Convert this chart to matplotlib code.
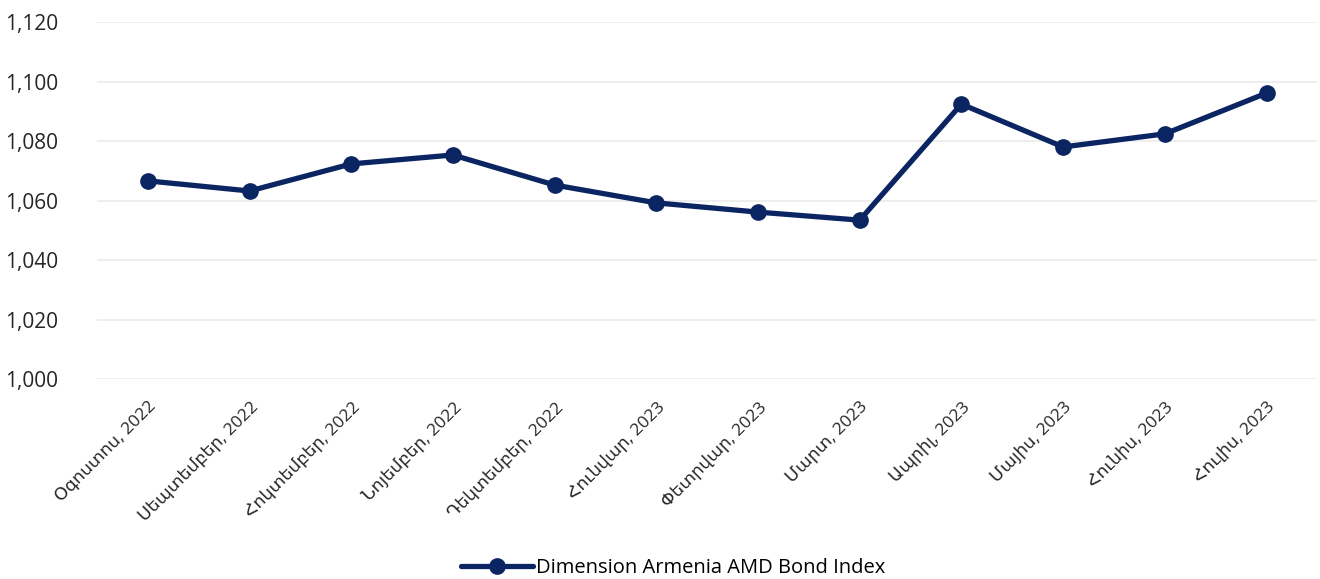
import matplotlib
matplotlib.use("Agg")
import matplotlib.pyplot as plt
from matplotlib.ticker import FuncFormatter

months = ["Օգոստոս, 2022", "Սեպտեմբեր, 2022", "Հոկտեմբեր, 2022", "Նոյեմբեր, 2022",
          "Դեկտեմբեր, 2022", "Հունվար, 2023", "Փետրվար, 2023", "Մարտ, 2023",
          "Ապրիլ, 2023", "Մայիս, 2023", "Հունիս, 2023", "Հուլիս, 2023"]
index_values = [1066.6, 1063.2, 1072.3, 1075.3, 1065.2, 1059.2,
                1056.1, 1053.4, 1092.4, 1078.0, 1082.4, 1096.1]
series_name = "Dimension Armenia AMD Bond Index"

plt.rcParams["font.family"] = ["Open Sans", "DejaVu Sans"]
navy = "#0b2462"

fig = plt.figure(figsize=(13.2, 5.79), dpi=100)
ax = fig.add_axes([0.0735, 0.3454, 0.9245, 0.6166])

x = list(range(len(months)))
ax.plot(x, index_values, color=navy, lw=3.8, marker="o", ms=11,
        solid_capstyle="round", label=series_name)

ax.set_xlim(-0.5, len(months) - 0.5)
ax.set_ylim(1000, 1120)
ax.set_yticks(range(1000, 1121, 20))
ax.yaxis.set_major_formatter(FuncFormatter(lambda v, p: f"{v:,.0f}"))
ax.grid(axis="y", color="#ebebeb", lw=1.2)
ax.set_axisbelow(True)
for s in ax.spines.values():
    s.set_visible(False)
ax.tick_params(axis="both", length=0)
ax.tick_params(axis="y", labelsize=15, colors="#262626", pad=28)

ax.set_xticks(x)
ax.set_xticklabels(months, rotation=45, ha="right", rotation_mode="anchor",
                   fontsize=12.5, color="#262626")
ax.tick_params(axis="x", pad=14)

fig.legend(loc="lower center", bbox_to_anchor=(0.51, -0.03), frameon=False,
           fontsize=14.5, handlelength=3.6, handletextpad=0.15)

fig.savefig("out.png", dpi=100)
